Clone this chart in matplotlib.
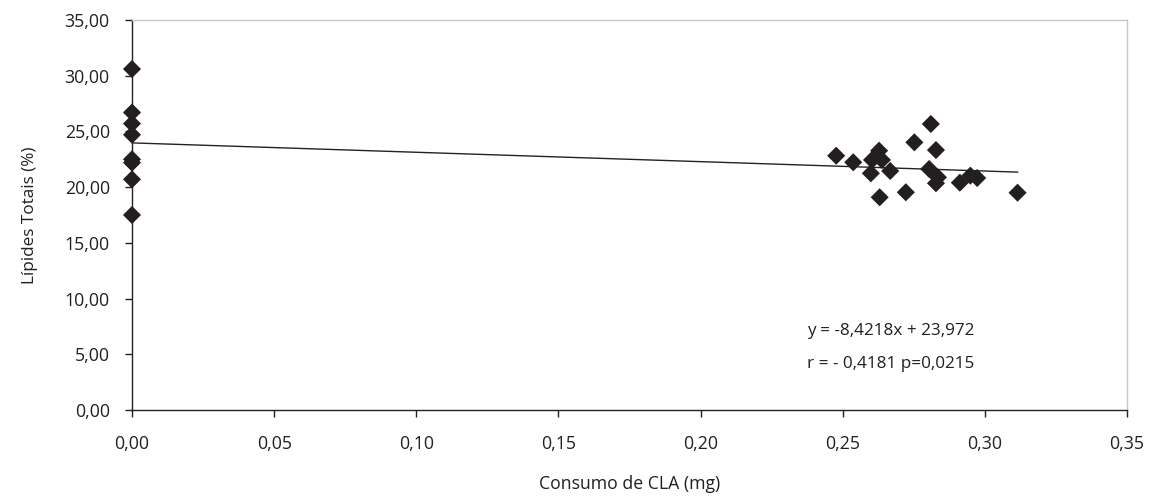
import matplotlib
matplotlib.use("Agg")
import matplotlib.pyplot as plt
from matplotlib.ticker import FuncFormatter

plt.rcParams['font.family'] = ['Open Sans', 'DejaVu Sans']

# Data: CLA consumption (mg) vs total lipids (%)
cla_control = [0.0, 0.0, 0.0, 0.0, 0.0, 0.0, 0.0, 0.0]
lip_control = [30.6, 26.7, 25.7, 24.7, 22.5, 22.2, 20.7, 17.5]

cla_treat = [0.2477, 0.2537, 0.2599, 0.2603, 0.2628, 0.2638, 0.2630, 0.2667,
             0.2722, 0.2752, 0.2810, 0.2828, 0.2804, 0.2835, 0.2828, 0.2912,
             0.2949, 0.2973, 0.3115]
lip_treat = [22.82, 22.23, 21.24, 22.44, 23.27, 22.44, 19.09, 21.45,
             19.54, 24.02, 25.67, 23.33, 21.63, 20.88, 20.35, 20.40,
             21.03, 20.82, 19.50]

slope = -8.4218
intercept = 23.972
line_x = [0.0, 0.3115]

xticks = [0.0, 0.05, 0.10, 0.15, 0.20, 0.25, 0.30, 0.35]
yticks = [0, 5, 10, 15, 20, 25, 30, 35]

fig = plt.figure(figsize=(11.58, 5.03), dpi=100)
ax = fig.add_axes([132/1158, 1-410/503, (1127-132)/1158, (410-20)/503])

x_all = cla_control + cla_treat
y_all = lip_control + lip_treat
ax.plot(line_x, [intercept + slope*v for v in line_x], color='#222222', lw=1.0, zorder=2)
ax.scatter(x_all, y_all, marker='D', s=85, color='#231f20', edgecolors='none', zorder=3, clip_on=False)

ax.set_xlim(0, 0.35)
ax.set_ylim(0, 35)
ax.set_xticks(xticks)
ax.set_yticks(yticks)
fmt = FuncFormatter(lambda v, p: f"{v:.2f}".replace('.', ','))
ax.xaxis.set_major_formatter(fmt)
ax.yaxis.set_major_formatter(fmt)

for s in ['left', 'bottom']:
    ax.spines[s].set_color('#222222')
    ax.spines[s].set_linewidth(1.0)
for s in ['top', 'right']:
    ax.spines[s].set_color('#c8c8c8')
    ax.spines[s].set_linewidth(1.0)

ax.tick_params(axis='both', direction='out', length=5, width=1.0, color='#222222',
               labelsize=12.8, labelcolor='#231f20')
ax.tick_params(axis='x', pad=13)
ax.tick_params(axis='y', pad=11)

ax.set_xlabel('Consumo de CLA (mg)', fontsize=12.7, color='#231f20', labelpad=16)
ax.set_ylabel('Lípides Totais (%)', fontsize=12.3, color='#231f20', labelpad=19)

ax.text(0.2375, 6.75, 'y = -8,4218x + 23,972', fontsize=12.3, color='#231f20',
        va='baseline', ha='left')
ax.text(0.2375, 3.75, 'r = - 0,4181 p=0,0215', fontsize=12.3, color='#231f20',
        va='baseline', ha='left')

fig.savefig('out.png', dpi=100)
